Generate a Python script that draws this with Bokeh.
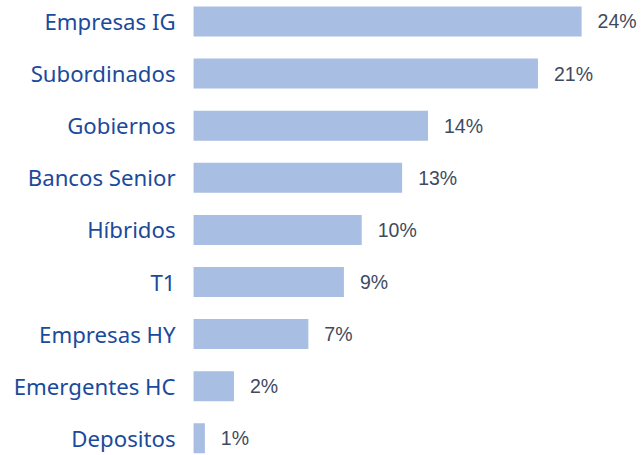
from bokeh.plotting import figure
from bokeh.models import Range1d, ColumnDataSource
from bokeh.core.properties import value
from bokeh.embed import file_html
from bokeh.resources import INLINE

categories = ["Empresas IG", "Subordinados", "Gobiernos", "Bancos Senior", "Híbridos",
              "T1", "Empresas HY", "Emergentes HC", "Depositos"]
values = [24.0, 21.3, 14.5, 12.9, 10.4, 9.3, 7.1, 2.5, 0.7]
value_labels = ["24%", "21%", "14%", "13%", "10%", "9%", "7%", "2%", "1%"]

n = len(categories)
ypos = [n - 1 - i for i in range(n)]

src = ColumnDataSource(dict(y=ypos, v=values, cat=categories, lab=value_labels,
                            zero=[0] * n))

p = figure(width=644, height=455, output_backend="svg", toolbar_location=None,
           x_range=Range1d(-11.94, 27.89), y_range=Range1d(-0.33, 8.403),
           min_border=0, outline_line_color=None)
p.axis.visible = False
p.grid.visible = False
p.background_fill_color = "white"
p.border_fill_color = "white"

p.hbar(y="y", left=0, right="v", height=0.576, source=src,
       fill_color="#A9BEE3", line_color=None)

p.text(x="zero", y="y", text="cat", source=src, x_offset=-18,
       text_align="right", text_baseline="middle",
       text_font=value("Noto Sans"), text_font_size="22.2px", text_color="#1B4A9B")

p.text(x="v", y="y", text="lab", source=src, x_offset=16,
       text_align="left", text_baseline="middle",
       text_font=value("Liberation Sans"), text_font_size="19.5px", text_color="#3E4A60")

open("out.html", "w").write(file_html(p, INLINE))
